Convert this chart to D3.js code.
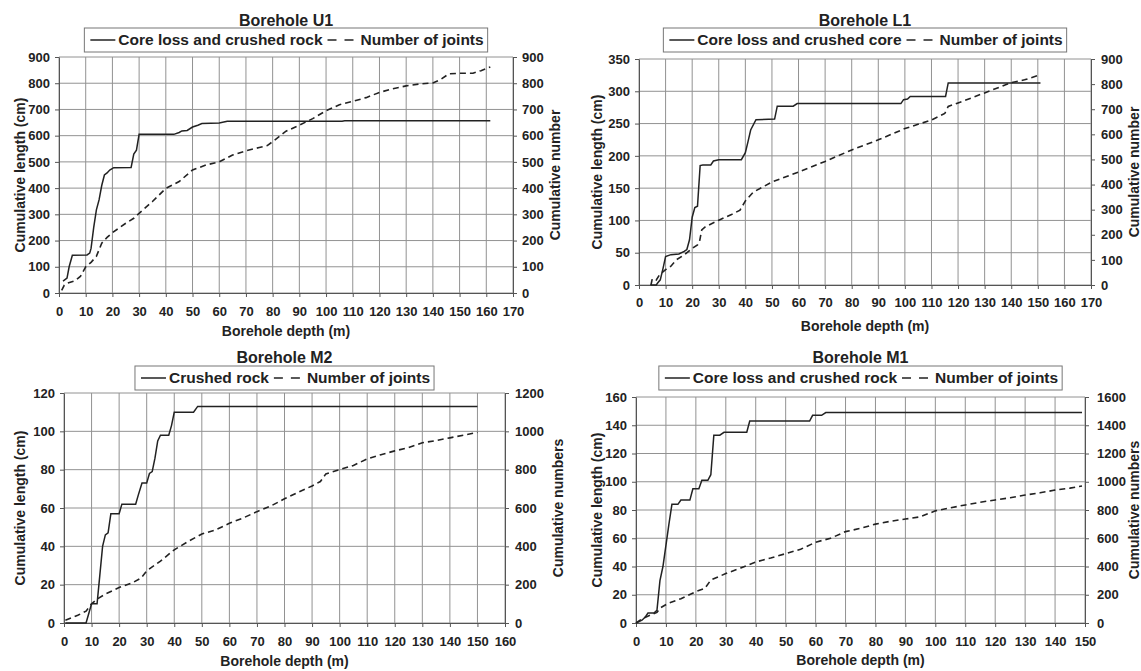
<!DOCTYPE html>
<html>
<head>
<meta charset="utf-8">
<script src="https://cdn.jsdelivr.net/npm/d3@7/dist/d3.min.js"></script>
<style>
  body { margin: 0; background: #fff; }
  svg text { font-family: "Liberation Sans", Arial, sans-serif; font-weight: bold; fill: #222; }
  .grid line { stroke: #929292; stroke-width: 1; }
  .axis path, .axis line { stroke: #555; }
  .axis text { font-size: 13px; }
</style>
</head>
<body>
<div id="chart"></div>
<script>
// depth (m), value pairs
var u1Core = [[1.5,45],[3,57],[3.8,100],[5,144],[10.5,145],[11.5,152],[12,170],[13,250],[14,317],[15,355],[16,410],[17,450],[18,458],[19,469],[20.5,478],[27,479],[28,530],[29,545],[30,605],[43,605],[45,612],[46,618],[48,620],[50,633],[52,640],[53.5,646],[60,648],[63,655],[106,655],[107,657],[161.5,657]];
var u1Joints = [[1,10],[2,30],[3,37],[6,47],[8,63],[10,100],[12,117],[14,140],[16,190],[18,212],[20,230],[25,266],[28,285],[30,304],[35,349],[40,399],[45,425],[50,469],[55,488],[60,500],[65,526],[70,542],[75,555],[78,562],[81,585],[85,617],[90,640],[95,665],[100,695],[105,718],[110,731],[115,745],[120,765],[125,779],[130,790],[135,797],[140,801],[143,815],[146,836],[150,838],[155,838],[158,848],[161.5,862]];

var l1Core = [[4.3,0],[6.5,0],[7,3],[8,8],[9,25],[10,44],[12,47],[15,48],[17,52],[18,55],[19,70],[20,105],[21,120],[22,122],[23,185],[24,186],[27,186],[28,192],[30,194],[38.5,194],[40,205],[41,222],[42,240],[44,256],[51,257],[52,277],[58,277],[59.5,281],[98.5,281],[99.5,287],[101,288],[102,292],[115.3,292],[116.3,313],[151,313]];
var l1Joints = [[4.5,0],[5,25],[6.5,20],[8,45],[9,52],[10.5,66],[12,75],[14,100],[17,120],[20,146],[22,160],[22.8,175],[23.6,219],[25,232],[30,258],[35,282],[38,298],[40,335],[43,370],[50,410],[60,450],[70,492],[80,538],[90,578],[100,623],[110,657],[115,683],[116.3,711],[120,725],[130,765],[140,806],[145,817],[150,834]];

var m2Core = [[0.5,0],[8,0],[10,10],[12,10],[13,25],[14,40],[15,46],[16,47],[17,57],[20,57],[21,62],[26,62],[27,67],[28.3,73],[30,73],[31,78],[32,79],[33,86],[34,95],[35,98],[38,98],[39,103],[40,110],[47,110],[48.5,113],[150,113]];
var m2Joints = [[0.5,14],[5,40],[8,62],[10,100],[12,125],[15,151],[20,185],[25,211],[28,235],[30,272],[35,323],[40,382],[45,425],[50,464],[55,486],[60,520],[65,548],[70,581],[75,610],[80,648],[85,682],[90,715],[93,738],[95,778],[100,800],[105,822],[110,856],[115,878],[120,898],[125,915],[130,940],[135,952],[140,966],[145,980],[150,995]];

var m1Core = [[0,0],[2,2],[3,4],[4,7],[6,7],[7,9],[8,30],[9,40],[10,55],[11,70],[12,84],[14,84],[15,87],[18,87],[19,95],[21,95],[22,101],[24,101],[25,105],[26,133],[28,133],[29.4,135],[37,135],[38,143],[58,143],[59,147],[62,147],[63.4,149],[149,149]];
var m1Joints = [[0,0],[2,30],[5,58],[7,75],[8,105],[10.6,138],[15,172],[20,222],[23,245],[25,304],[30,350],[35,390],[40,432],[45,460],[50,491],[55,522],[60,572],[65,600],[70,647],[75,670],[80,700],[85,720],[90,736],[95,752],[100,794],[105,815],[110,836],[115,855],[120,871],[125,887],[130,906],[135,922],[140,941],[145,955],[149,970]];

var titles = ["Borehole U1", "Borehole L1", "Borehole M2", "Borehole M1"];
var coreLabels = ["Core loss and crushed rock", "Core loss and crushed core", "Crushed rock", "Core loss and crushed rock"];
var jointLabel = "Number of joints";
var rightTitles = ["Cumulative number", "Cumulative number", "Cumulative numbers", "Cumulative numbers"];

var panels = [
    {left: 59, right: 513, top: 57, bottom: 293, xMax: 170, yMax: 900, yStep: 100, rMax: 900, rStep: 100,
     titleY: 20, legTop: 28, xLabY: 312, xTitleY: 331, lTitleX: 20, rTitleX: 555, rPad: 9, core: u1Core, joints: u1Joints},
    {left: 639, right: 1091, top: 59, bottom: 285, xMax: 170, yMax: 350, yStep: 50, rMax: 900, rStep: 100,
     titleY: 20, legTop: 28, xLabY: 303, xTitleY: 326, lTitleX: 597, rTitleX: 1134, rPad: 10, core: l1Core, joints: l1Joints},
    {left: 64, right: 505, top: 393, bottom: 623, xMax: 160, yMax: 120, yStep: 20, rMax: 1200, rStep: 200,
     titleY: 357, legTop: 366, xLabY: 642, xTitleY: 661, lTitleX: 20, rTitleX: 558, rPad: 10, core: m2Core, joints: m2Joints},
    {left: 636, right: 1085, top: 397, bottom: 623, xMax: 150, yMax: 160, yStep: 20, rMax: 1600, rStep: 200,
     titleY: 357, legTop: 366, xLabY: 642, xTitleY: 660, lTitleX: 597, rTitleX: 1134, rPad: 12, core: m1Core, joints: m1Joints}
];

var svg = d3.select("#chart").append("svg")
    .attr("width", 1141)
    .attr("height", 671);

panels.forEach(function(p, i) {
    var g = svg.append("g");
    var cx = (p.left + p.right) / 2;

    var xScale = d3.scaleLinear().domain([0, p.xMax]).range([p.left, p.right]);
    var yScale = d3.scaleLinear().domain([0, p.yMax]).range([p.bottom, p.top]);
    var rScale = d3.scaleLinear().domain([0, p.rMax]).range([p.bottom, p.top]);

    var xTicks = d3.range(0, p.xMax + 1, 10);
    var yTicks = d3.range(0, p.yMax + 1, p.yStep);
    var rTicks = d3.range(0, p.rMax + 1, p.rStep);

    // grid
    var grid = g.append("g").attr("class", "grid");
    grid.selectAll(".v").data(xTicks).enter().append("line")
        .attr("x1", function(d) { return xScale(d); })
        .attr("x2", function(d) { return xScale(d); })
        .attr("y1", p.top).attr("y2", p.bottom);
    grid.selectAll(".h").data(yTicks).enter().append("line")
        .attr("x1", p.left).attr("x2", p.right)
        .attr("y1", function(d) { return yScale(d); })
        .attr("y2", function(d) { return yScale(d); });

    // axes
    g.append("g").attr("class", "axis")
        .attr("transform", "translate(0," + p.bottom + ")")
        .call(d3.axisBottom(xScale).tickValues(xTicks).tickSize(4).tickSizeOuter(0)
            .tickFormat(d3.format("d"))
            .tickPadding(p.xLabY - p.bottom - 9));
    g.append("g").attr("class", "axis")
        .attr("transform", "translate(" + p.left + ",0)")
        .call(d3.axisLeft(yScale).tickValues(yTicks).tickSize(4).tickSizeOuter(0)
            .tickFormat(d3.format("d")).tickPadding(5));
    g.append("g").attr("class", "axis")
        .attr("transform", "translate(" + p.right + ",0)")
        .call(d3.axisRight(rScale).tickValues(rTicks).tickSize(4).tickSizeOuter(0)
            .tickFormat(d3.format("d")).tickPadding(p.rPad - 4));

    // series
    var line = d3.line()
        .x(function(d) { return xScale(d[0]); })
        .y(function(d) { return yScale(d[1]); });
    var rLine = d3.line()
        .x(function(d) { return xScale(d[0]); })
        .y(function(d) { return rScale(d[1]); });

    g.append("path").datum(p.joints)
        .attr("fill", "none").attr("stroke", "#222").attr("stroke-width", 1.6)
        .attr("stroke-dasharray", "6,4")
        .attr("d", rLine);
    g.append("path").datum(p.core)
        .attr("fill", "none").attr("stroke", "#222").attr("stroke-width", 1.5)
        .attr("d", line);

    // titles
    g.append("text").attr("x", cx).attr("y", p.titleY).attr("dy", "0.35em")
        .attr("text-anchor", "middle").style("font-size", "16px").text(titles[i]);
    g.append("text").attr("x", cx).attr("y", p.xTitleY).attr("dy", "0.35em")
        .attr("text-anchor", "middle").style("font-size", "14px").text("Borehole depth (m)");
    g.append("text").attr("transform", "translate(" + p.lTitleX + "," + ((p.top + p.bottom) / 2) + ") rotate(-90)")
        .attr("dy", "0.35em").attr("text-anchor", "middle").style("font-size", "14px")
        .text("Cumulative length (cm)");
    g.append("text").attr("transform", "translate(" + p.rTitleX + "," + ((p.top + p.bottom) / 2) + ") rotate(-90)")
        .attr("dy", "0.35em").attr("text-anchor", "middle").style("font-size", "14px")
        .text(rightTitles[i]);

    // legend
    var leg = g.append("g");
    var box = leg.append("rect").attr("fill", "#fff").attr("stroke", "#777").attr("stroke-width", 1);
    var midY = p.legTop + 12;
    var x = 0;
    leg.append("line").attr("x1", x + 6).attr("x2", x + 31).attr("y1", midY).attr("y2", midY)
        .attr("stroke", "#222").attr("stroke-width", 1.5);
    var t1 = leg.append("text").attr("x", x + 34).attr("y", midY).attr("dy", "0.35em")
        .style("font-size", "15.5px").text(coreLabels[i]);
    x = 34 + t1.node().getComputedTextLength() + 5;
    leg.append("line").attr("x1", x).attr("x2", x + 26).attr("y1", midY).attr("y2", midY)
        .attr("stroke", "#222").attr("stroke-width", 1.5).attr("stroke-dasharray", "9,8");
    x += 33;
    var t2 = leg.append("text").attr("x", x).attr("y", midY).attr("dy", "0.35em")
        .style("font-size", "15.5px").text(jointLabel);
    var w = x + t2.node().getComputedTextLength() + 4;
    box.attr("x", 0).attr("y", p.legTop).attr("width", w).attr("height", 24);
    leg.attr("transform", "translate(" + (cx - w / 2) + ",0)");
});
</script>
</body>
</html>
